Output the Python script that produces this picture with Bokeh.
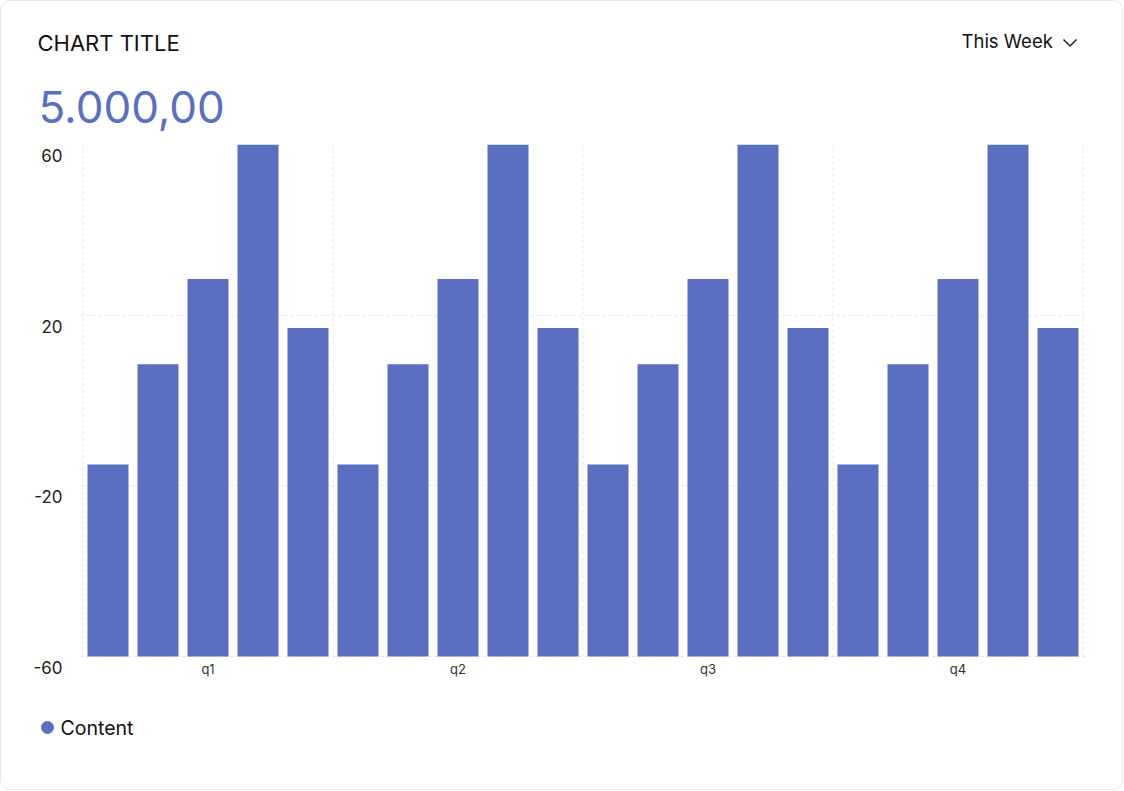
import numpy as np
from bokeh.plotting import figure
from bokeh.layouts import column
from bokeh.models import Range1d, FixedTicker, ColumnDataSource, LinearAxis
from bokeh.core.properties import value
from bokeh.embed import file_html
from bokeh.resources import INLINE

# ---------------- data ----------------
quarters = ["q1", "q2", "q3", "q4"]
bars_per_quarter = 5
values = [-15, 8.5, 28.5, 60, 17,
          -15, 8.5, 28.5, 60, 17,
          -15, 8.5, 28.5, 60, 17,
          -15, 8.5, 28.5, 60, 17]
y_ticks = [-60, -20, 20, 60]
y_min, y_max = -60, 60
series_name = "Content"
title_text = "CHART TITLE"
period_text = "This Week"
total_text = "5.000,00"

# ---------------- style ----------------
BLUE = "#5A6FC1"
FONT = "Inter"
GRID = "#e6e6e6"
W = 1121


def blank(height, y_top, y_bottom):
    f = figure(frame_width=W, frame_height=height, x_range=Range1d(1, 1 + W),
               y_range=Range1d(y_bottom, y_top), output_backend="svg",
               toolbar_location=None, x_axis_location=None, y_axis_location=None,
               min_border=0, frame_align=False)
    f.outline_line_color = None
    f.grid.visible = False
    f.background_fill_color = "white"
    f.border_fill_color = "white"
    return f


# ---------------- header ----------------
head = blank(140, 1, 141)
head.text(x=[37], y=[42], text=[title_text], text_font=value(FONT),
          text_font_size="22px", text_color="#111111", text_baseline="alphabetic")
head.text(x=[38], y=[106], text=[total_text], text_font=value(FONT),
          text_font_size="44px", text_color=BLUE, text_baseline="alphabetic")
head.text(x=[961], y=[40], text=[period_text], text_font=value(FONT),
          text_font_size="18.5px", text_color="#111111", text_baseline="alphabetic")
head.line(x=[1063, 1069.5, 1076], y=[39, 45.5, 39], line_color="#222222", line_width=1.5)

# ---------------- chart ----------------
n = len(values)
src = ColumnDataSource(dict(x=np.arange(n) + 0.5, top=values, bottom=[y_min] * n))
bounds = [bars_per_quarter * k for k in range(len(quarters) + 1)]

# frame reaches 11px below the -60 line so that the y labels can sit
# slightly below their grid lines, as in the reference
pad = 11 * (y_max - y_min) / 512
p = figure(frame_width=1007, frame_height=523,
           x_range=Range1d(-0.05, n + 0.09), y_range=Range1d(y_min - pad, y_max),
           output_backend="svg", toolbar_location=None, y_axis_location=None,
           min_border_left=79, min_border_right=35, min_border_top=3, min_border_bottom=23,
           frame_align=False)
p.background_fill_color = "white"
p.border_fill_color = "white"
p.outline_line_color = None
p.xgrid.visible = False

p.ygrid.ticker = FixedTicker(ticks=y_ticks)
p.ygrid.grid_line_color = GRID
p.ygrid.grid_line_dash = "3 3"
p.segment(x0=bounds, x1=bounds, y0=[y_min] * len(bounds), y1=[y_max] * len(bounds),
          line_color=GRID, line_dash="3 3", line_width=1)

p.xaxis.ticker = FixedTicker(ticks=[bars_per_quarter * (k + 0.5) for k in range(len(quarters))])
p.xaxis.major_label_overrides = {bars_per_quarter * (k + 0.5): q for k, q in enumerate(quarters)}
p.xaxis.axis_line_color = None
p.xaxis.major_tick_line_color = None
p.xaxis.minor_tick_line_color = None
p.xaxis.major_tick_out = 0
p.xaxis.major_tick_in = 0
p.xaxis.major_label_standoff = -7
p.xaxis.major_label_text_font = FONT
p.xaxis.major_label_text_font_size = "13px"
p.xaxis.major_label_text_color = "#333333"

p.extra_y_ranges = {"lab": Range1d(y_min, y_max + pad)}
yax = LinearAxis(y_range_name="lab", ticker=FixedTicker(ticks=y_ticks))
yax.major_label_overrides = {t: str(t) for t in y_ticks}
yax.axis_line_color = None
yax.major_tick_line_color = None
yax.minor_tick_line_color = None
yax.major_tick_out = 0
yax.major_tick_in = 0
yax.major_label_standoff = 18
yax.major_label_text_font = FONT
yax.major_label_text_font_size = "17px"
yax.major_label_text_color = "#222222"
p.add_layout(yax, "left")

p.vbar(x="x", top="top", bottom="bottom", width=0.82, source=src,
       fill_color=BLUE, line_color=None)

# ---------------- footer (legend) ----------------
foot = blank(99, 690, 789)
foot.scatter(x=[47], y=[727], marker="circle", size=12, fill_color=BLUE, line_color=BLUE)
foot.text(x=[60], y=[727], text=[series_name], text_font=value(FONT),
          text_font_size="19.5px", text_color="#111111", text_baseline="middle")

layout = column(head, p, foot, spacing=0,
                styles={"border": "1px solid #e6e6e6", "border-radius": "10px",
                        "overflow": "hidden"})

open("out.html", "w").write(file_html(layout, INLINE))
